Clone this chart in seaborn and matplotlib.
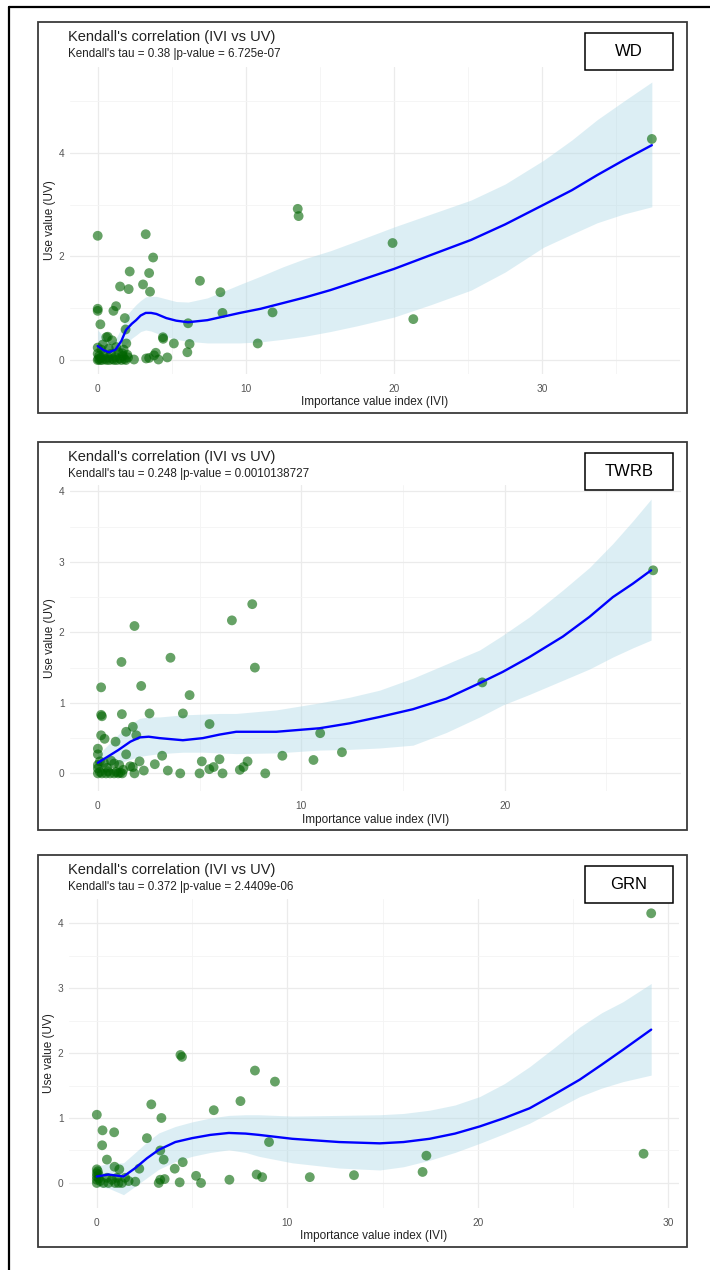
import numpy as np
import pandas as pd
import matplotlib
matplotlib.use("Agg")
import matplotlib.pyplot as plt
from matplotlib.patches import Rectangle
from matplotlib.lines import Line2D
import seaborn as sns

# ---------------- data ----------------
panel_names = ["WD", "TWRB", "GRN"]
subtitles = [
    "Kendall's tau = 0.38 |p-value = 6.725e-07",
    "Kendall's tau = 0.248 |p-value = 0.0010138727",
    "Kendall's tau = 0.372 |p-value = 2.4409e-06",
]

wd_ivi = [0, 3.24, 3.74, 2.16, 3.47, 3.06, 1.51, 2.09, 3.53, 6.9, 8.28, 0, 0, 1.24, 1.06, 1.83,
          8.42, 0.18, 6.1, 1.88, 0.68, 0.97, 4.4, 4.42, 1.93, 5.14, 6.2, 6.05, 3.92, 0, 2.45,
          3.27, 3.47, 4.1, 4.7, 3.8, 11.8, 10.8, 13.5, 13.56, 19.9, 21.3, 37.4, 1.66, 0.58,
          0, 0.05, 0.1, 0.15, 0.2, 0.3, 0.4, 0.5, 0.6, 0.7, 0.8, 0.9, 1.0, 1.1, 1.2, 1.3, 1.4,
          1.5, 1.6, 1.7, 1.8, 1.9, 2.0, 0.25, 0.0, 1.25, 0.35, 0.75, 1.75, 2.05]
wd_uv = [2.40, 2.43, 1.98, 1.71, 1.68, 1.46, 1.42, 1.37, 1.32, 1.53, 1.31, 0.99, 0.95, 1.04, 0.95,
         0.81, 0.91, 0.69, 0.71, 0.59, 0.45, 0.38, 0.44, 0.41, 0.32, 0.32, 0.31, 0.15, 0.14, 0.24,
         0.01, 0.03, 0.04, 0.01, 0.05, 0.09, 0.92, 0.32, 2.92, 2.78, 2.26, 0.79, 4.27, 0.13, 0.44,
         0.0, 0.02, 0.08, 0.0, 0.04, 0.0, 0.1, 0.02, 0.0, 0.05, 0.0, 0.12, 0.02, 0.0, 0.06, 0.0,
         0.15, 0.03, 0.0, 0.08, 0.02, 0.0, 0.1, 0.2, 0.12, 0.25, 0.3, 0.22, 0.2, 0.05]
wd_fit_x = [0, 0.4, 0.75, 1.2, 1.6, 1.91, 2.3, 2.59, 2.9, 3.24, 3.6, 3.96, 4.63, 5.3, 6.1, 7.4, 8.5,
            9.6, 11, 12.5, 14, 15.7, 17.5, 20, 22.5, 25.2, 27.5, 30.1, 32, 33.7, 35.5, 37.4]
wd_fit_y = [0.27, 0.19, 0.15, 0.20, 0.37, 0.58, 0.70, 0.77, 0.86, 0.91, 0.91, 0.89, 0.81, 0.76, 0.73,
            0.77, 0.84, 0.91, 0.99, 1.10, 1.21, 1.35, 1.52, 1.76, 2.03, 2.32, 2.62, 3.0, 3.28, 3.57,
            3.86, 4.15]
wd_fit_lo = [0.06, 0.02, 0.0, 0.05, 0.15, 0.30, 0.42, 0.48, 0.55, 0.58, 0.56, 0.52, 0.45, 0.40, 0.36,
             0.33, 0.33, 0.33, 0.35, 0.40, 0.46, 0.55, 0.66, 0.83, 1.07, 1.35, 1.70, 2.18, 2.43, 2.65,
             2.82, 2.96]
wd_fit_hi = [0.58, 0.45, 0.35, 0.40, 0.62, 0.85, 0.98, 1.07, 1.15, 1.22, 1.23, 1.23, 1.18, 1.13, 1.12,
             1.20, 1.33, 1.46, 1.62, 1.80, 1.96, 2.11, 2.30, 2.57, 2.82, 3.09, 3.40, 3.86, 4.25, 4.64,
             5.0, 5.37]

twrb_ivi = [7.59, 6.59, 1.80, 1.16, 3.57, 7.72, 0.16, 2.13, 4.51, 0.16, 0.2, 1.18, 2.54, 4.18, 5.49,
            1.72, 1.39, 1.89, 0.16, 0.33, 0.87, 1.39, 0, 0, 3.16, 9.07, 10.93, 12.0, 10.6, 2.80,
            2.05, 1.59, 2.26, 3.44, 4.05, 5.11, 5.0, 5.48, 5.69, 5.98, 6.13, 6.98, 7.16, 7.36, 8.23,
            1.8, 1.72, 18.9, 27.3,
            0, 0.1, 0.2, 0.4, 0.5, 0.6, 0.8, 0.9, 1.0, 1.1, 1.2, 0, 0.1, 0.3, 0.8, 0.65, 1.25,
            0.45, 1.05, 0.0]
twrb_uv = [2.40, 2.17, 2.09, 1.58, 1.64, 1.50, 1.22, 1.24, 1.11, 0.83, 0.81, 0.84, 0.85, 0.85, 0.70,
           0.66, 0.59, 0.54, 0.54, 0.49, 0.45, 0.27, 0.35, 0.27, 0.25, 0.25, 0.57, 0.30, 0.19, 0.13,
           0.17, 0.10, 0.04, 0.04, 0.0, 0.17, 0.0, 0.06, 0.09, 0.20, 0.0, 0.05, 0.09, 0.17, 0.0,
           0.0, 0.09, 1.29, 2.88,
           0.0, 0.02, 0.0, 0.0, 0.03, 0.0, 0.0, 0.02, 0.0, 0.01, 0.0, 0.12, 0.17, 0.15, 0.14, 0.18,
           0.05, 0.08, 0.12, 0.07]
twrb_fit_x = [0, 1.0, 1.6, 2.05, 2.5, 3.03, 4.18, 5.16, 5.98, 6.8, 8.77, 10.9, 12.38, 13.85, 15.49,
              17.13, 18.77, 19.91, 21.22, 22.86, 24.17, 25.32, 26.3, 27.2]
twrb_fit_y = [0.15, 0.33, 0.45, 0.51, 0.52, 0.50, 0.47, 0.50, 0.55, 0.59, 0.59, 0.64, 0.71, 0.80, 0.91,
              1.06, 1.28, 1.44, 1.65, 1.94, 2.22, 2.50, 2.69, 2.88]
twrb_fit_lo = [0.07, 0.14, 0.20, 0.24, 0.26, 0.28, 0.30, 0.30, 0.29, 0.28, 0.29, 0.33, 0.34, 0.36, 0.40,
               0.58, 0.80, 0.97, 1.12, 1.32, 1.48, 1.65, 1.78, 1.89]
twrb_fit_hi = [0.26, 0.55, 0.70, 0.78, 0.80, 0.80, 0.83, 0.84, 0.85, 0.85, 0.90, 1.0, 1.08, 1.18, 1.35,
               1.55, 1.75, 1.96, 2.22, 2.60, 2.92, 3.26, 3.58, 3.89]

grn_ivi = [4.39, 4.47, 8.30, 9.35, 7.54, 2.86, 6.14, 0, 3.39, 0.30, 0.91, 0.28, 2.63, 9.04, 3.33,
           0.53, 3.51, 4.51, 4.09, 2.23, 0.93, 1.18, 5.21, 3.33, 3.56, 3.25, 4.35, 5.47, 6.96, 8.39,
           8.68, 11.18, 2.02, 1.67, 1.49, 13.5, 17.1, 17.3, 28.7, 29.1,
           0, 0, 0, 0, 0, 0.09, 0.18, 0.35, 0.53, 0.61, 0.79, 0.96, 1.14, 1.32, 1.05, 0.05, 0.1]
grn_uv = [1.97, 1.94, 1.73, 1.56, 1.26, 1.21, 1.12, 1.05, 1.00, 0.81, 0.78, 0.58, 0.69, 0.63, 0.50,
          0.36, 0.36, 0.32, 0.22, 0.22, 0.25, 0.21, 0.11, 0.05, 0.06, 0.0, 0.01, 0.0, 0.05, 0.13,
          0.09, 0.09, 0.02, 0.03, 0.08, 0.12, 0.17, 0.42, 0.45, 4.15,
          0.21, 0.15, 0.10, 0.05, 0.0, 0.13, 0.03, 0.0, 0.08, 0.0, 0.05, 0.0, 0.0, 0.0, 0.08, 0.18, 0.07]
grn_fit_x = [0, 0.61, 1.40, 2.02, 2.63, 3.25, 4.12, 5.0, 5.96, 6.93, 7.81, 8.51, 10.26, 12.72, 14.85,
             16.1, 17.47, 18.8, 20.1, 21.4, 22.72, 24.0, 25.35, 26.5, 27.62, 29.1]
grn_fit_y = [0.10, 0.13, 0.10, 0.23, 0.38, 0.51, 0.63, 0.69, 0.74, 0.77, 0.76, 0.74, 0.68, 0.63, 0.61,
             0.63, 0.68, 0.76, 0.87, 1.0, 1.15, 1.36, 1.59, 1.82, 2.05, 2.36]
grn_fit_lo = [-0.05, -0.08, -0.18, -0.05, 0.08, 0.21, 0.33, 0.41, 0.47, 0.51, 0.47, 0.41, 0.31, 0.23,
              0.20, 0.25, 0.35, 0.47, 0.61, 0.76, 0.92, 1.12, 1.33, 1.46, 1.56, 1.66]
grn_fit_hi = [0.26, 0.30, 0.31, 0.47, 0.63, 0.77, 0.87, 0.94, 1.0, 1.04, 1.05, 1.05, 1.03, 1.04, 1.05,
              1.07, 1.12, 1.20, 1.33, 1.53, 1.79, 2.08, 2.40, 2.62, 2.79, 3.07]

# ---------------- styling ----------------
sns.set_theme(style="white")
plt.rcParams["font.family"] = ["Liberation Sans Narrow", "Liberation Sans", "DejaVu Sans"]

W, H = 710, 1270
fig = plt.figure(figsize=(W / 100, H / 100), dpi=100)


def fx(x):
    return x / W


def fy(y):
    return 1 - y / H


def add_axes_px(left, top, right, bottom):
    return fig.add_axes([fx(left), fy(bottom), (right - left) / W, (bottom - top) / H])


# outer frame
fig.add_artist(Line2D([fx(9), fx(9)], [fy(7), fy(1275)], color="black", lw=1.6))
fig.add_artist(Line2D([fx(9), fx(715)], [fy(7), fy(7)], color="black", lw=1.6))

panels = [
    dict(x=wd_ivi, y=wd_uv, fx_=wd_fit_x, fy_=wd_fit_y, lo=wd_fit_lo, hi=wd_fit_hi,
         box=(38, 22, 687, 413), ax=(70, 67, 680, 374), xlim=(-1.87, 39.3), ylim=(-0.27, 5.66),
         xmaj=[0, 10, 20, 30], xmin=[5, 15, 25, 35], ymaj=[0, 2, 4], ymin=[1, 3, 5]),
    dict(x=twrb_ivi, y=twrb_uv, fx_=twrb_fit_x, fy_=twrb_fit_y, lo=twrb_fit_lo, hi=twrb_fit_hi,
         box=(38, 442, 687, 830), ax=(70, 485, 681, 791), xlim=(-1.37, 28.67), ylim=(-0.25, 4.09),
         xmaj=[0, 10, 20], xmin=[5, 15, 25], ymaj=[0, 1, 2, 3, 4], ymin=[0.5, 1.5, 2.5, 3.5]),
    dict(x=grn_ivi, y=grn_uv, fx_=grn_fit_x, fy_=grn_fit_y, lo=grn_fit_lo, hi=grn_fit_hi,
         box=(38, 855, 687, 1247), ax=(69, 899, 679, 1208), xlim=(-1.46, 30.56), ylim=(-0.385, 4.37),
         xmaj=[0, 10, 20, 30], xmin=[5, 15, 25], ymaj=[0, 1, 2, 3, 4], ymin=[0.5, 1.5, 2.5, 3.5]),
]

for i, p in enumerate(panels):
    bx0, by0, bx1, by1 = p["box"]
    fig.add_artist(Rectangle((fx(bx0), fy(by1)), (bx1 - bx0) / W, (by1 - by0) / H,
                             transform=fig.transFigure, fill=False, edgecolor="#3a3a3a", lw=1.3))
    l, t, r, b = p["ax"]
    ax = add_axes_px(l, t, r, b)
    ax.set_facecolor("white")

    ax.fill_between(p["fx_"], p["lo"], p["hi"], color="#add8e6", alpha=0.42, lw=0, zorder=1)
    df_pts = pd.DataFrame({"IVI": p["x"], "UV": p["y"]})
    sns.scatterplot(data=df_pts, x="IVI", y="UV", ax=ax, color="#006400", alpha=0.6, s=50,
                    edgecolor="none", linewidth=0, zorder=2)
    df_fit = pd.DataFrame({"IVI": p["fx_"], "UV": p["fy_"]})
    sns.lineplot(data=df_fit, x="IVI", y="UV", ax=ax, color="#0000ff", lw=1.7, zorder=3)
    for ln in ax.lines:
        ln.set_solid_joinstyle("round")

    ax.set_xlim(*p["xlim"])
    ax.set_ylim(*p["ylim"])
    ax.set_xticks(p["xmaj"])
    ax.set_xticks(p["xmin"], minor=True)
    ax.set_yticks(p["ymaj"])
    ax.set_yticks(p["ymin"], minor=True)
    ax.grid(which="major", color="#ebebeb", lw=0.9)
    ax.grid(which="minor", color="#f4f4f4", lw=0.6)
    ax.set_axisbelow(True)
    for s in ax.spines.values():
        s.set_visible(False)
    ax.tick_params(axis="both", which="both", length=0, labelsize=7.3, labelcolor="#555555")
    ax.tick_params(axis="x", pad=7)
    ax.tick_params(axis="y", pad=4)
    ax.set_xlabel("Importance value index (IVI)", fontsize=8.5, color="#222222", labelpad=2)
    ax.set_ylabel("Use value (UV)", fontsize=8.5, color="#222222", labelpad=2)

    # titles
    fig.text(fx(68), fy(by0 + 15), "Kendall's correlation (IVI vs UV)", fontsize=10.5,
             color="#222222", va="center", ha="left")
    fig.text(fx(68), fy(by0 + 32), subtitles[i], fontsize=8.4, color="#222222",
             va="center", ha="left")

    # panel label box
    lx0, ly0, lx1, ly1 = 585, by0 + 11, 673, by0 + 48
    fig.add_artist(Rectangle((fx(lx0), fy(ly1)), (lx1 - lx0) / W, (ly1 - ly0) / H,
                             transform=fig.transFigure, facecolor="white",
                             edgecolor="black", lw=1.1))
    fig.text(fx((lx0 + lx1) / 2), fy((ly0 + ly1) / 2), panel_names[i], fontsize=12,
             color="black", ha="center", va="center",
             family=["Liberation Sans", "DejaVu Sans"])

fig.savefig("out.png", dpi=100, facecolor="white")
